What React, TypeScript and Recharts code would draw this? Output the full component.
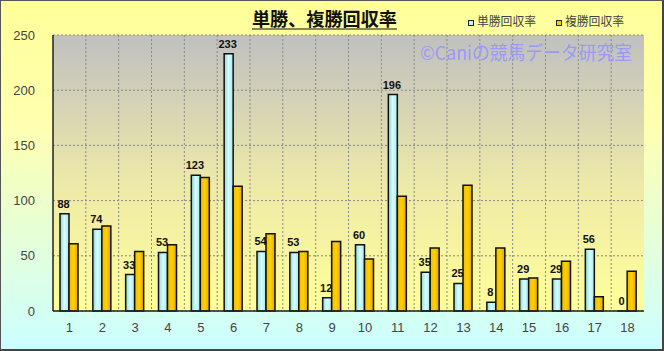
import React from "react";
import {
  Bar,
  BarChart,
  CartesianGrid,
  LabelList,
  XAxis,
  YAxis,
} from "recharts";

const races = ["1", "2", "3", "4", "5", "6", "7", "8", "9", "10", "11", "12", "13", "14", "15", "16", "17", "18"];
const winReturn = [88, 74, 33, 53, 123, 233, 54, 53, 12, 60, 196, 35, 25, 8, 29, 29, 56, 0];
const placeReturn = [61, 77, 54, 60, 121, 113, 70, 54, 63, 47, 104, 57, 114, 57, 30, 45, 13, 36];
const yTicks = [0, 50, 100, 150, 200, 250];

const data = races.map((name, i) => ({
  name,
  win: winReturn[i],
  place: placeReturn[i],
}));

const font = "'Liberation Sans', Arial, sans-serif";
const jpFont = "'Noto Sans CJK JP', sans-serif";

// vertical grid lines sit between the categories, not on them
const boundaryLines = ({ offset }: any) =>
  races.slice(1).map((_, i) => offset.left + ((i + 1) * offset.width) / races.length);

// a zero bar still needs a (flat) rectangle so its "0" label gets drawn
const keepZero = (v: any) => (v === 0 ? 0.01 : 0);

const WinLabel = (props: any) => {
  const { x, y, width, value } = props;
  return (
    <text
      x={Number(x) + Number(width) / 2 - 1}
      y={Number(y) - 6}
      textAnchor="middle"
      fill="#111"
      fontSize={11}
      fontWeight="bold"
      fontFamily={font}
    >
      {value}
    </text>
  );
};

function Overlay() {
  return (
    <svg
      width={664}
      height={351}
      style={{ position: "absolute", left: -1, top: -1, pointerEvents: "none" }}
    >
      <text
        x={252}
        y={26}
        fontFamily={jpFont}
        fontWeight="bold"
        fontSize={18}
        fill="#111"
        textLength={145}
        lengthAdjust="spacingAndGlyphs"
      >
        単勝、複勝回収率
      </text>
      <line x1={252} x2={397} y1={29} y2={29} stroke="#111" strokeWidth={1.2} />

      <rect x={468.5} y={20.5} width={5} height={5} fill="#BFF4F6" stroke="#222" />
      <text
        x={477}
        y={26}
        fontFamily={jpFont}
        fontSize={12}
        fill="#444"
        textLength={59}
        lengthAdjust="spacingAndGlyphs"
      >
        単勝回収率
      </text>
      <rect x={556.5} y={20.5} width={5} height={5} fill="#FFCC00" stroke="#222" />
      <text
        x={565}
        y={26}
        fontFamily={jpFont}
        fontSize={12}
        fill="#444"
        textLength={59}
        lengthAdjust="spacingAndGlyphs"
      >
        複勝回収率
      </text>

      <text
        x={420}
        y={60}
        fontFamily={jpFont}
        fontSize={19}
        fill="#9A9AF6"
        textLength={212}
        lengthAdjust="spacingAndGlyphs"
      >
        ©Caniの競馬データ研究室
      </text>
    </svg>
  );
}

function App() {
  return (
    <div
      style={{
        position: "absolute",
        left: 0,
        top: 0,
        width: 664,
        height: 351,
        boxSizing: "border-box",
        borderTop: "1px solid #555",
        borderLeft: "1px solid #555",
        borderRight: "2px solid #444",
        borderBottom: "2px solid #444",
        background: "linear-gradient(to bottom, #FFFF99 0%, #FFFFB0 35%, #CCFFFF 100%)",
        overflow: "hidden",
      }}
    >
      <BarChart
        width={661}
        height={348}
        data={data}
        barGap={0}
        barSize={9}
        margin={{ top: 34, right: 18, bottom: 8, left: 7 }}
      >
        <defs>
          <linearGradient id="plotBg" x1="0" y1="0" x2="0" y2="1">
            <stop offset="0%" stopColor="#C0C0C0" />
            <stop offset="55%" stopColor="#EEEAA8" />
            <stop offset="100%" stopColor="#FFFF99" />
          </linearGradient>
          <linearGradient id="winFill" x1="0" y1="0" x2="1" y2="0">
            <stop offset="0%" stopColor="#8ED4D8" />
            <stop offset="50%" stopColor="#D6FFFF" />
            <stop offset="100%" stopColor="#A6E6EA" />
          </linearGradient>
          <linearGradient id="placeFill" x1="0" y1="0" x2="1" y2="0">
            <stop offset="0%" stopColor="#F2B800" />
            <stop offset="50%" stopColor="#FFD200" />
            <stop offset="100%" stopColor="#E0A400" />
          </linearGradient>
        </defs>
        <CartesianGrid
          fill="url(#plotBg)"
          fillOpacity={1}
          stroke="#888"
          strokeDasharray="2 2"
          verticalCoordinatesGenerator={boundaryLines}
        />
        <XAxis
          dataKey="name"
          height={30}
          tickLine={false}
          axisLine={{ stroke: "#222", strokeWidth: 1.5 }}
          tick={{ fill: "#444", fontSize: 13, fontFamily: font }}
          tickMargin={6}
        />
        <XAxis
          xAxisId="top"
          orientation="top"
          dataKey="name"
          height={0}
          tick={false}
          tickLine={false}
          axisLine={{ stroke: "#888", strokeWidth: 1.5 }}
        />
        <YAxis
          domain={[0, 250]}
          ticks={yTicks}
          width={45}
          tickLine={false}
          axisLine={{ stroke: "#222", strokeWidth: 1.5 }}
          tick={{ fill: "#444", fontSize: 13, fontFamily: font }}
          tickMargin={12}
          interval={0}
        />
        <YAxis
          yAxisId="right"
          orientation="right"
          width={0}
          tick={false}
          tickLine={false}
          axisLine={{ stroke: "#888", strokeWidth: 1.5 }}
        />
        <Bar
          dataKey="win"
          fill="url(#winFill)"
          stroke="#111"
          strokeWidth={1.5}
          minPointSize={keepZero}
          isAnimationActive={false}
        >
          <LabelList dataKey="win" content={WinLabel} />
        </Bar>
        <Bar
          dataKey="place"
          fill="url(#placeFill)"
          stroke="#111"
          strokeWidth={1.5}
          isAnimationActive={false}
        />
      </BarChart>
      <Overlay />
    </div>
  );
}

export default App;
